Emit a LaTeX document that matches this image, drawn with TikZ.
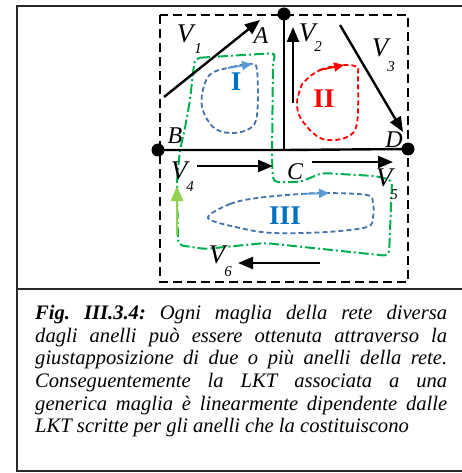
\documentclass[tikz,border=0pt]{standalone}
\usepackage{fontspec}
\setmainfont{Liberation Serif}
\usetikzlibrary{arrows.meta}
\definecolor{loopblue}{RGB}{68,114,170}
\definecolor{headblue}{RGB}{91,155,213}
\definecolor{labblue}{RGB}{0,112,192}
\definecolor{grn}{RGB}{0,176,80}
\definecolor{lgrn}{RGB}{146,208,80}
\definecolor{frame}{RGB}{40,40,40}
\tikzset{
  wire/.style={line width=2.4pt},
  volt/.style={line width=2.4pt, -{Triangle[length=15pt,width=12pt]}},
  dotnode/.style={circle, fill=black, inner sep=0pt, minimum size=13pt},
  bound/.style={line width=2.4pt, dash pattern=on 9pt off 5pt},
  loopline/.style={line width=1.8pt, dash pattern=on 5pt off 3pt},
  loophead/.style={line width=1.8pt, -{Triangle[length=10pt,width=9pt]}},
  greenloop/.style={grn, line width=2pt, dash pattern=on 10pt off 3pt on 2pt off 3pt, rounded corners=5pt},
  lab/.style={font=\fontsize{24}{24}\selectfont\itshape, inner sep=0pt},
  vlab/.style={font=\fontsize{27}{27}\selectfont\itshape, inner sep=0pt},
  sublab/.style={font=\fontsize{15}{15}\selectfont\itshape, inner sep=0pt},
  roman/.style={font=\fontsize{27}{27}\selectfont\bfseries, inner sep=0pt},
  framel/.style={frame, line width=2pt}
}
\begin{document}
\begin{tikzpicture}[x=1pt,y=-1pt]
\useasboundingbox (0,0) rectangle (462,473);
% outer frame
\draw[framel] (463,6) -- (16.5,6) -- (16.5,471) -- (463,471);
\draw[framel] (16.5,289) -- (463,289);
% dashed boundary
\draw[bound] (160,15) rectangle (408,282);
% green mesh
\draw[greenloop] (195,58) -- (276,53) -- (273,62) -- (272,157) -- (273,182) -- (300,182) -- (322,173) -- (375,176) -- (392,180) -- (389,256) -- (265,243) -- (205,249) -- (178,245) -- (177,180) -- (180,150) -- (185,128) -- (190,100) -- (193,73) -- cycle;
% nodes
\node[dotnode] (A) at (284,14) {};
\node[dotnode] (B) at (158,150) {};
\node[dotnode] (D) at (408,149) {};
\coordinate (C) at (284,150);
\draw[wire] (A.center) -- (C);
\draw[wire] (B.center) -- (C) -- (D.center);
% loops
\draw[loopblue, loopline] plot[smooth cycle, tension=0.6] coordinates {(212,73) (232,67) (250,64) (257,70) (257,115) (249,129) (230,133) (213,127) (202,107) (204,86)};
\draw[red, loopline] plot[smooth cycle, tension=0.6] coordinates {(304,82) (320,70) (343,65) (357,67) (358,75) (357,123) (347,137) (327,140) (313,133) (300,117) (297,103) (300,90)};
\draw[loopblue, loopline] plot[smooth cycle, tension=0.55] coordinates {(208,218) (230,204) (257,198) (300,194) (327,193) (367,195) (373,203) (373,217) (367,227) (327,232) (273,233) (240,228)};
\coordinate (h1a) at (228,68); \coordinate (h1b) at (252,64);
\coordinate (h2a) at (320,70); \coordinate (h2b) at (344,65);
\coordinate (h3a) at (302,194); \coordinate (h3b) at (329,193);
\draw[headblue, loophead] (h1a) -- (h1b);
\draw[red, loophead] (h2a) -- (h2b);
\draw[headblue, loophead] (h3a) -- (h3b);
% voltage arrows
\coordinate (v1a) at (164,97); \coordinate (v1b) at (260,20);
\coordinate (v2a) at (293,103); \coordinate (v2b) at (293,27);
\coordinate (v3a) at (340,25); \coordinate (v3b) at (403,132);
\coordinate (v4a) at (177,235); \coordinate (v4b) at (177,186);
\coordinate (v4c) at (197,166); \coordinate (v4d) at (273,166);
\coordinate (v5a) at (312,162); \coordinate (v5b) at (393,162);
\coordinate (v6a) at (320,263); \coordinate (v6b) at (238,263);
\draw[volt] (v1a) -- (v1b);
\draw[volt] (v2a) -- (v2b);
\draw[volt] (v3a) -- (v3b);
\draw[volt, lgrn] (v4a) -- (v4b);
\draw[volt] (v4c) -- (v4d);
\draw[volt] (v5a) -- (v5b);
\draw[volt] (v6a) -- (v6b);
% labels
\node[lab] (lA) at (261,36) {A};
\node[lab] (lB) at (175,136) {B};
\node[lab] (lC) at (295,172) {C};
\node[lab] (lD) at (394,140) {D};
\node[vlab] (V1) at (185,34) {V}; \node[sublab] (V1s) at (198,49) {1};
\node[vlab] (V2) at (307,33) {V}; \node[sublab] (V2s) at (318,47) {2};
\node[vlab] (V3) at (380,48) {V}; \node[sublab] (V3s) at (391,67) {3};
\node[vlab] (V4) at (179,171) {V}; \node[sublab] (V4s) at (190,187) {4};
\node[vlab] (V5) at (384,178) {V}; \node[sublab] (V5s) at (394,195) {5};
\node[vlab] (V6) at (217,255) {V}; \node[sublab] (V6s) at (228,272) {6};
\node[roman, labblue] (rI) at (236,82) {I};
\node[roman, red] (rII) at (324,99) {II};
\node[roman, labblue] (rIII) at (285,216) {III};
% caption
\node[anchor=north west, inner sep=0pt, align=left, font=\fontsize{20.6}{22.7}\selectfont\itshape\frenchspacing] (cap) at (35,305) {%
\makebox[412pt][s]{\textbf{Fig. III.3.4:} Ogni maglia della rete diversa}\\
\makebox[412pt][s]{dagli anelli può essere ottenuta attraverso la}\\
\makebox[412pt][s]{giustapposizione di due o più anelli della rete.}\\
\makebox[412pt][s]{Conseguentemente la LKT associata a una}\\
\makebox[412pt][s]{generica maglia è linearmente dipendente dalle}\\
LKT scritte per gli anelli che la costituiscono};
\end{tikzpicture}
\end{document}
